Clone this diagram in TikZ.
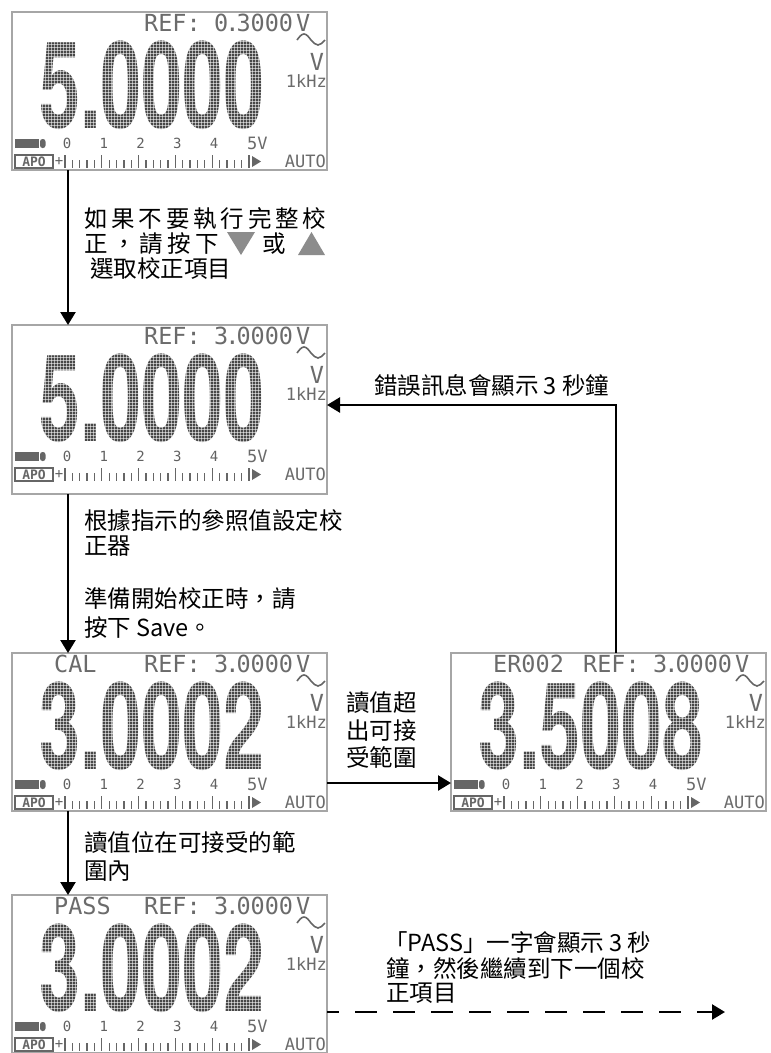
\documentclass[tikz,border=0pt]{standalone}
\usepackage{fontspec}
\setmainfont{Noto Sans CJK TC}
\newfontfamily\lcdfont{DejaVu Sans Mono}
\newfontfamily\digitfont{TeX Gyre Heros}[FakeStretch=0.61]
\usetikzlibrary{arrows.meta,calc}
\newcommand\lcddot{\kern-3pt.\kern-3pt}
\tikzset{
 lcdframe/.style={draw=black!35, line width=1.2pt, minimum width=315pt, inner sep=0pt, outer sep=0pt},
 lcdtxt/.style={font=\lcdfont\fontsize{23.5}{23.5}\selectfont, text=black!58, inner sep=0pt},
 lcdmid/.style={font=\lcdfont\fontsize{17}{17}\selectfont, text=black!58, inner sep=0pt},
 lcdsmall/.style={font=\lcdfont\fontsize{14}{14}\selectfont, text=black!62, inner sep=0pt},
 bigdig/.style={font=\digitfont\bfseries\fontsize{121}{121}\selectfont, text=black!72, inner sep=0pt},
 dotgrid/.style={draw=white, line width=0.5pt, opacity=0.55},
 lcdline/.style={draw=black!60, line width=1.6pt},
 lcdtick/.style={draw=black!60, line width=1.3pt},
 lcdfill/.style={fill=black!60},
 apobox/.style={draw=black!60, line width=1.2pt, minimum width=38pt, minimum height=13pt, inner sep=0pt,
   font=\lcdfont\bfseries\fontsize{13}{13}\selectfont, text=black!60},
 conn/.style={line width=2.5pt, -{Triangle[width=15pt,length=13pt]}},
 txt/.style={font=\fontsize{23.5}{25}\selectfont, inner sep=0pt, anchor=base west},
 btn/.style={fill=black!45},
}
% #1 name, #2 left, #3 top, #4 height, #5 label, #6 digits, #7 ref value
\newcommand\lcdpanel[7]{%
\begin{scope}[shift={(#2,#3)}]
 \node[lcdframe, minimum height=#4pt, anchor=north west] (#1) at (0,0) {};
 \node[lcdtxt, anchor=base west] (#1-lab) at (42,19.5) {#5};
 \node[lcdtxt, anchor=base west] (#1-ref) at (132,19.5) {REF:};
 \node[lcdtxt, anchor=base west] (#1-val) at (202,19.5) {#7};
 \node[lcdtxt, anchor=base west] (#1-v) at (284,19.5) {V};
 \node[bigdig, anchor=base west] (#1-dig) at (27,116) {#6};
 \foreach \i in {0,...,80} \draw[dotgrid] ({24+3*\i},26) -- ({24+3*\i},120);
 \foreach \i in {0,...,31} \draw[dotgrid] (24,{26+3*\i}) -- (264,{26+3*\i});
 \draw[lcdline] (285,28) sin (292,22) cos (299,28) sin (306,33) cos (313,28);
 \node[lcdtxt] (#1-vv) at (305,50) {V};
 \node[lcdmid, anchor=east] (#1-hz) at (315,69) {1kHz};
 \fill[lcdfill] (3,127) rectangle (27,136);
 \fill[lcdfill, rounded corners=2.5pt] (28,127) rectangle (33.5,136);
 \foreach \k in {0,...,4} \node[lcdsmall] (#1-s\k) at ({55+36.8*\k},131.5) {\k};
 \node[lcdmid, anchor=base west] (#1-5v) at (235,137) {5V};
 \node[apobox] (#1-apo) at (22,149.5) {APO};
 \node[lcdsmall] (#1-plus) at (47,149.5) {+};
 \foreach \k in {0,...,25} \draw[lcdtick] ({53+7.36*\k},148) -- ({53+7.36*\k},155.5);
 \foreach \k in {0,...,5} \draw[lcdtick] ({53+36.8*\k},143) -- ({53+36.8*\k},155.5);
 \fill[lcdfill] (240,144) -- (249,149.5) -- (240,155) -- cycle;
 \node[lcdmid, anchor=east] (#1-auto) at (314,149.5) {AUTO};
\end{scope}}

\begin{document}
\begin{tikzpicture}[x=1pt,y=-1pt]
\fill[white] (0,0) rectangle (771,1053);
\useasboundingbox (0,0) rectangle (771,1053);

\lcdpanel{d1}{12}{12}{158}{}{5.0000}{0\lcddot3000}
\lcdpanel{d2}{12}{325}{169}{}{5.0000}{3\lcddot0000}
\lcdpanel{d3}{12}{653}{158}{CAL}{3.0002}{3\lcddot0000}
\lcdpanel{d4}{451}{653}{158}{ER002}{3.5008}{3\lcddot0000}
\lcdpanel{d5}{12}{895}{158}{PASS}{3.0002}{3\lcddot0000}

% text 1
\node[txt] (t1a) at (84,227) {\makebox[242pt]{如\hfill 果\hfill 不\hfill 要\hfill 執\hfill 行\hfill 完\hfill 整\hfill 校}};
\node[txt] (t1b) at (84,252) {\makebox[135pt]{正\hfill ，\hfill 請\hfill 按\hfill 下}};
\node[txt] (t1c) at (262,252) {或};
\fill[btn] (227,232) -- (255,232) -- (241,255) -- cycle;
\fill[btn] (298,255) -- (325,255) -- (311.5,232) -- cycle;
\node[txt] (t1d) at (90,277) {選取校正項目};

% text 2
\node[txt] (t2a) at (84,529) {根據指示的參照值設定校};
\node[txt] (t2b) at (84,554) {正器};
\node[txt] (t2c) at (84,607) {準備開始校正時，請};
\node[txt] (t2d) at (84,636) {按下 Save。};

% text 3
\node[txt] (t3a) at (346,711) {讀值超};
\node[txt] (t3b) at (346,739) {出可接};
\node[txt] (t3c) at (346,766) {受範圍};

% text 4
\node[txt] (t4a) at (84,851) {讀值位在可接受的範};
\node[txt] (t4b) at (84,879) {圍內};

% text 5
\node[txt] (t5) at (374,394) {錯誤訊息會顯示 3 秒鐘};

% text 6
\node[txt] (t6a) at (384,951) {「PASS」一字會顯示 3 秒};
\node[txt] (t6b) at (386,977) {鐘，然後繼續到下一個校};
\node[txt] (t6c) at (386,1001) {正項目};

% connectors
\draw[conn] ($(d1.south west)+(56,0)$) -- ($(d2.north west)+(56,0)$);
\draw[conn] ($(d2.south west)+(56,0)$) -- ($(d3.north west)+(56,0)$);
\draw[conn] ($(d3.south west)+(56,0)$) -- ($(d5.north west)+(56,0)$);
\coordinate (c4) at ($(d3.north east)+(0,130)$);
\draw[conn] (c4) -- (c4 -| d4.west);
\coordinate (c5) at ($(d4.north west)+(165,0)$);
\coordinate (c5b) at ($(d2.north east)+(0,80)$);
\draw[conn] (c5) |- (c5b);
\coordinate (c6) at ($(d5.north east)+(0,117)$);
\coordinate (c6e) at (725,1012);
\draw[conn, dash pattern=on 22pt off 16pt, dash phase=10pt] (c6) -- (c6e);
\end{tikzpicture}
\end{document}
